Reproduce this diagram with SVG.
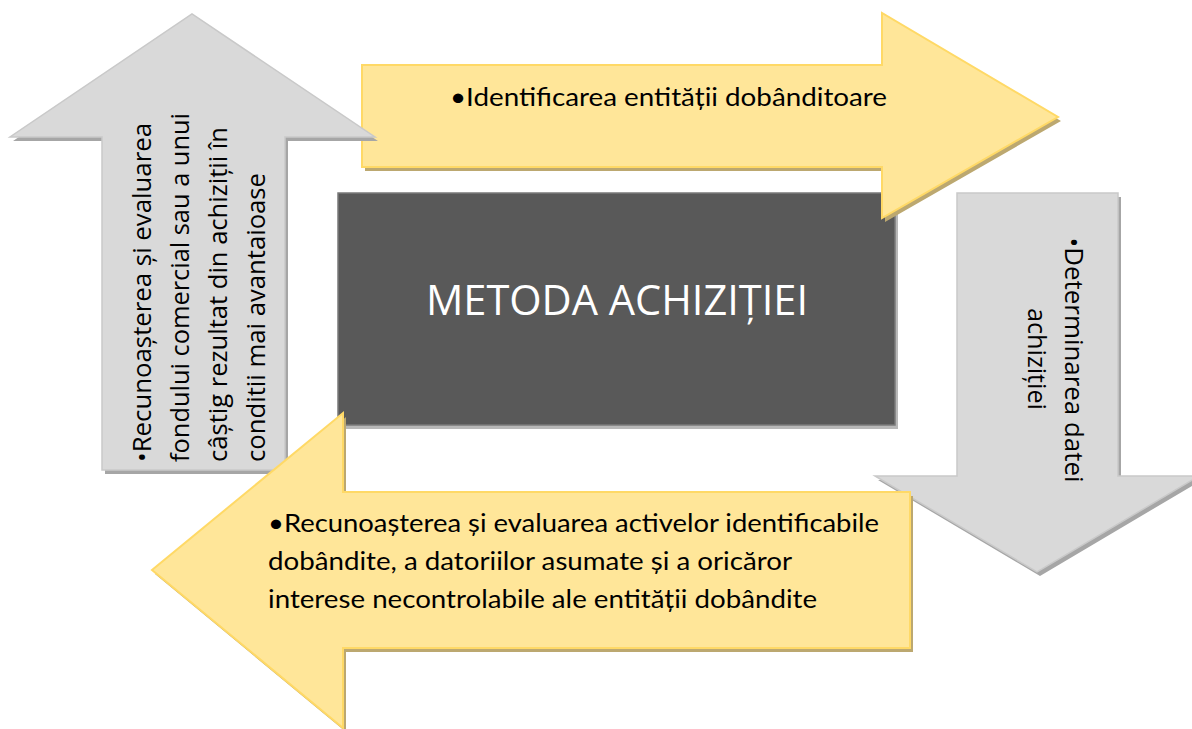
<svg xmlns="http://www.w3.org/2000/svg" width="1192" height="729" viewBox="0 0 1192 729">
  <style>
    .gray { fill: #d9d9d9; stroke: #c9c9c9; stroke-width: 1.5; }
    .grayShadow { fill: #a6a6a6; }
    .yellow { fill: #ffe699; stroke: #ffd966; stroke-width: 2; }
    .yellowShadow { fill: #bca870; }
    .box { fill: #595959; stroke: #7a7a7a; stroke-width: 1.5; }
    .boxShadow { fill: #b8b8b8; }
    .sideText { font-family: "Open Sans", "Noto Sans", sans-serif; font-size: 25px; fill: #000000; }
    .yText { font-family: Lato, Roboto, "Liberation Sans", sans-serif; font-size: 25.5px; fill: #000000; }
    .title { font-family: "Open Sans", "Noto Sans", sans-serif; font-size: 42px; fill: #ffffff; }
  </style>
  <rect width="1192" height="729" fill="#ffffff"/>

  <g id="center-box">
    <rect class="boxShadow" x="341" y="197" width="557" height="232"/>
    <rect class="box" x="338" y="193" width="557" height="232"/>
    <text class="title" x="617" y="315" text-anchor="middle" textLength="382" lengthAdjust="spacingAndGlyphs">METODA ACHIZIȚIEI</text>
  </g>

  <g id="arrow-right">
    <path class="yellowShadow" d="M365,69 L885,69 L885,17 L1061,121 L885,222 L885,171 L365,171 Z"/>
    <path class="yellow" d="M362,65 L882,65 L882,13 L1058,117 L882,218 L882,167 L362,167 Z"/>
    <text class="yText" x="450" y="106" textLength="437" lengthAdjust="spacingAndGlyphs">•Identificarea entității dobânditoare</text>
  </g>

  <g id="arrow-up">
    <path class="grayShadow" d="M105,474 L105,141 L13,141 L195,18 L378,141 L288,141 L288,474 Z"/>
    <path class="gray" d="M102,470 L102,137 L10,137 L192,14 L375,137 L285,137 L285,470 Z"/>
    <text class="sideText" transform="translate(151,462) rotate(-90)" textLength="339" lengthAdjust="spacingAndGlyphs">•Recunoașterea și evaluarea</text>
    <text class="sideText" transform="translate(189,462) rotate(-90)" textLength="349" lengthAdjust="spacingAndGlyphs">fondului comercial sau a unui</text>
    <text class="sideText" transform="translate(227,462) rotate(-90)" textLength="335" lengthAdjust="spacingAndGlyphs">câștig rezultat din achiziții în</text>
    <text class="sideText" transform="translate(265,462) rotate(-90)" textLength="289" lengthAdjust="spacingAndGlyphs">conditii mai avantaioase</text>
  </g>

  <g id="arrow-down">
    <path class="grayShadow" d="M960,197 L1121,197 L1121,480 L1202,480 L1040,576 L878,480 L960,480 Z"/>
    <path class="gray" d="M957,193 L1118,193 L1118,476 L1199,476 L1037,572 L875,476 L957,476 Z"/>
    <text class="sideText" transform="translate(1065,360) rotate(90)" text-anchor="middle" textLength="245" lengthAdjust="spacingAndGlyphs">•Determinarea datei</text>
    <text class="sideText" transform="translate(1028,359) rotate(90)" text-anchor="middle" textLength="102" lengthAdjust="spacingAndGlyphs">achiziției</text>
  </g>

  <g id="arrow-left">
    <path class="yellowShadow" d="M913,496 L346,496 L346,417 L155,574 L346,732 L346,652 L913,652 Z"/>
    <path class="yellow" d="M910,492 L343,492 L343,413 L152,570 L343,728 L343,648 L910,648 Z"/>
    <text class="yText" x="268" y="532" textLength="611" lengthAdjust="spacingAndGlyphs">•Recunoașterea și evaluarea activelor identificabile</text>
    <text class="yText" x="268" y="570" textLength="524" lengthAdjust="spacingAndGlyphs">dobândite, a datoriilor asumate și a oricăror</text>
    <text class="yText" x="268" y="608" textLength="549" lengthAdjust="spacingAndGlyphs">interese necontrolabile ale entității dobândite</text>
  </g>

  <g id="connectors"/>
</svg>
